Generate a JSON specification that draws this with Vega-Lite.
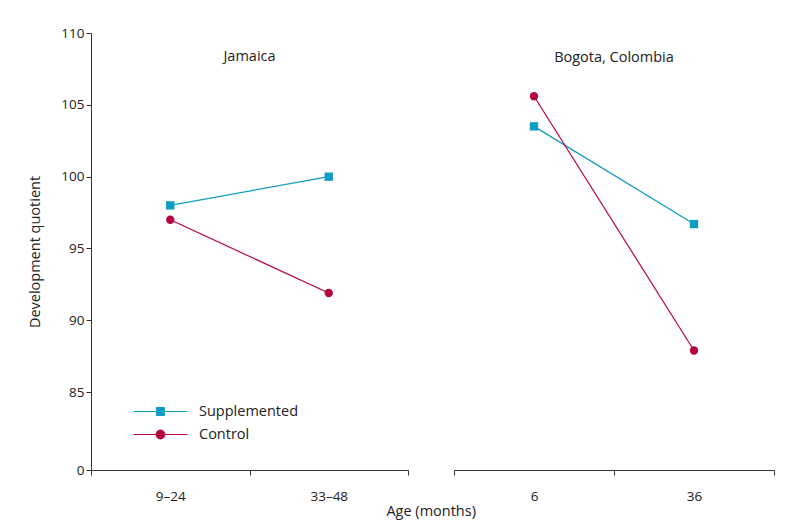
{
  "$schema": "https://vega.github.io/schema/vega-lite/v6.json",
  "background": "white",
  "padding": {"left": 27, "top": 26, "right": 10, "bottom": 5},
  "autosize": {"type": "pad"},
  "datasets": {
    "jam": [
      {"site": "Jamaica", "age": "9–24", "group": "Supplemented", "dq": 98},
      {"site": "Jamaica", "age": "33–48", "group": "Supplemented", "dq": 100},
      {"site": "Jamaica", "age": "9–24", "group": "Control", "dq": 97},
      {"site": "Jamaica", "age": "33–48", "group": "Control", "dq": 91.9}
    ],
    "bog": [
      {"site": "Bogota, Colombia", "age": "6", "group": "Supplemented", "dq": 103.5},
      {"site": "Bogota, Colombia", "age": "36", "group": "Supplemented", "dq": 96.7},
      {"site": "Bogota, Colombia", "age": "6", "group": "Control", "dq": 105.6},
      {"site": "Bogota, Colombia", "age": "36", "group": "Control", "dq": 87.9}
    ]
  },
  "config": {
    "font": "Open Sans",
    "view": {"stroke": null},
    "axis": {
      "domainColor": "#333",
      "tickColor": "#333",
      "labelColor": "#222",
      "titleColor": "#222",
      "labelFontSize": 13.5,
      "titleFontSize": 14.5,
      "titleFontWeight": "normal",
      "grid": false,
      "tickSize": 5
    },
    "title": {"fontSize": 14.5, "fontWeight": "normal", "color": "#222", "font": "Open Sans"}
  },
  "spacing": 44,
  "title": {"text": "Age (months)", "orient": "bottom", "anchor": "middle", "fontSize": 14.5, "fontWeight": "normal", "offset": 2, "dx": 30},
  "resolve": {"legend": {"color": "independent"}},
  "hconcat": [
    {
      "width": 317,
      "height": 437,
      "title": {"text": "Jamaica", "offset": -38},
      "data": {"name": "jam"},
      "encoding": {
        "x": {"field": "age", "type": "ordinal", "sort": ["9–24", "33–48"],
              "scale": {"paddingInner": 0, "paddingOuter": 0},
              "axis": {"title": null, "labelAngle": 0, "tickBand": "extent", "labelPadding": 14}},
        "y": {"field": "dq", "type": "quantitative",
              "scale": {"domain": [79.58, 110], "zero": false, "nice": false},
              "axis": {"title": "Development quotient", "values": [79.58, 85, 90, 95, 100, 105, 110],
                       "labelExpr": "datum.value < 80 ? '0' : datum.label", "titlePadding": 18}},
        "color": {"field": "group", "type": "nominal",
                  "scale": {"domain": ["Supplemented", "Control"], "range": ["#0e9cc0", "#b5063f"]},
                  "legend": {"title": null, "orient": "none", "legendX": 59, "legendY": 368,
                             "labelFontSize": 14.5, "labelColor": "#222", "symbolSize": 400, "labelOffset": 28, "rowPadding": 6,
                             "encode": {"symbols": {"update": {
                               "shape": {"signal": "datum.value === 'Supplemented' ? 'M-2.7,0H2.7M-0.4,-0.4H0.4V0.4H-0.4Z' : 'M-2.7,0H-0.45A0.45,0.45,0,1,1,0.45,0A0.45,0.45,0,1,1,-0.45,0M0.45,0H2.7'"},
                               "fill": {"signal": "scale('color', datum.value)"},
                               "stroke": {"signal": "scale('color', datum.value)"},
                               "strokeWidth": {"value": 1},
                               "opacity": {"value": 1}
                             }}}}}
      },
      "layer": [
        {"mark": {"type": "line", "strokeWidth": 1.2}, "encoding": {"detail": {"field": "group"}}},
        {"mark": {"type": "point", "filled": true, "opacity": 1, "size": 70},
         "encoding": {"shape": {"field": "group", "type": "nominal", "scale": {"domain": ["Supplemented", "Control"], "range": ["square", "circle"]}, "legend": null}}}
      ]
    },
    {
      "width": 320,
      "height": 437,
      "title": {"text": "Bogota, Colombia", "offset": -32},
      "data": {"name": "bog"},
      "encoding": {
        "x": {"field": "age", "type": "ordinal", "sort": ["6", "36"],
              "scale": {"paddingInner": 0, "paddingOuter": 0},
              "axis": {"title": null, "labelAngle": 0, "tickBand": "extent", "labelPadding": 14}},
        "y": {"field": "dq", "type": "quantitative",
              "scale": {"domain": [79.58, 110], "zero": false, "nice": false},
              "axis": null},
        "color": {"field": "group", "type": "nominal",
                  "scale": {"domain": ["Supplemented", "Control"], "range": ["#0e9cc0", "#b5063f"]},
                  "legend": null}
      },
      "layer": [
        {"mark": {"type": "line", "strokeWidth": 1.2}, "encoding": {"detail": {"field": "group"}}},
        {"mark": {"type": "point", "filled": true, "opacity": 1, "size": 70},
         "encoding": {"shape": {"field": "group", "type": "nominal", "scale": {"domain": ["Supplemented", "Control"], "range": ["square", "circle"]}, "legend": null}}}
      ]
    }
  ]
}
